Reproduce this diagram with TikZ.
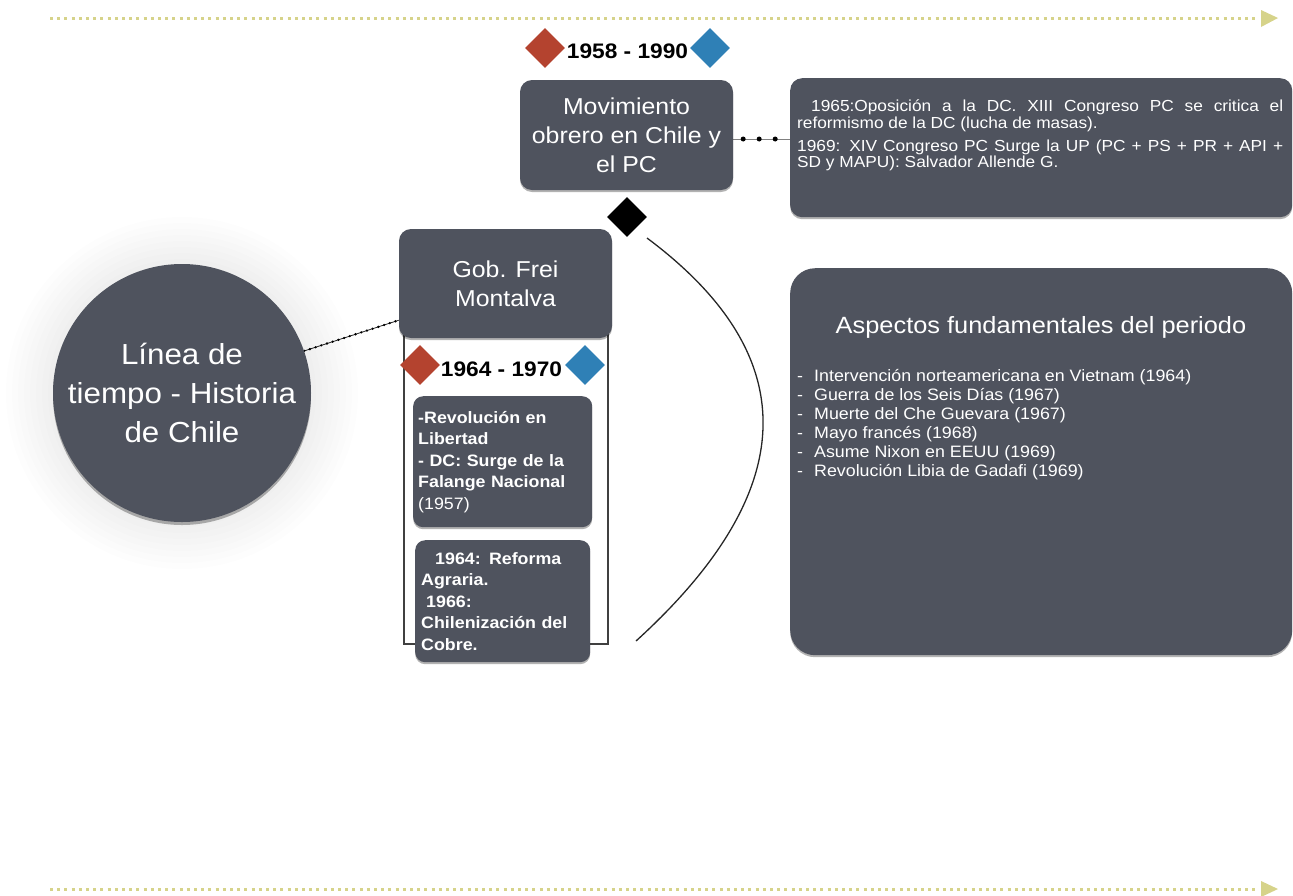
\documentclass[tikz,border=0pt]{standalone}
\usepackage{fontspec}
\setmainfont[FakeStretch=1.08]{Liberation Sans}
\usetikzlibrary{shapes.geometric,shadows}
\definecolor{boxgray}{HTML}{4F535E}
\definecolor{dred}{HTML}{B4432F}
\definecolor{dblue}{HTML}{2F80B6}
\definecolor{khaki}{HTML}{D6D38A}
\pgfdeclarelayer{background}
\pgfsetlayers{background,main}
\newcommand{\myfs}[2]{\fontsize{#1}{#2}\selectfont}
\begin{document}
\begin{tikzpicture}[x=1pt,y=-1pt,
  darkbox/.style={fill=boxgray, rounded corners=12pt, text=white, inner sep=0pt,
     drop shadow={shadow xshift=0pt, shadow yshift=-2pt, opacity=0.3, fill=black}},
  gem/.style={diamond, minimum width=40pt, minimum height=40pt, inner sep=0pt},
  yearlabel/.style={font=\bfseries\myfs{21}{25}, text=black, inner sep=0pt},
  timeline/.style={khaki, line width=3pt, dash pattern=on 3pt off 4.2pt},
  whitetext/.style={text=white, inner sep=0pt},
]
\useasboundingbox (0,0) rectangle (1293,895);

% timelines
\coordinate (t1s) at (50,18); \coordinate (t1e) at (1259,18);
\draw[timeline] (t1s) -- (t1e);
\fill[khaki] (1261,10) -- (1278,18) -- (1261,27) -- cycle;
\coordinate (t2s) at (50,889); \coordinate (t2e) at (1259,889);
\draw[timeline] (t2s) -- (t2e);
\fill[khaki] (1261,881) -- (1278,889) -- (1261,897) -- cycle;

% glow behind circle
\foreach \r in {176,170,...,130} \fill[black, opacity=0.008] (182,393) circle[radius=\r pt];

\node[circle, fill=boxgray, minimum size=258pt, inner sep=0pt, text=white, align=center,
      font=\myfs{29}{39}, drop shadow={shadow xshift=0pt, shadow yshift=-3pt, opacity=0.3, fill=black}]
      (circ) at (182,393) {Línea de\\tiempo - Historia\\de Chile};

% Frei block
\node[darkbox, minimum width=213pt, minimum height=109pt, align=center, font=\myfs{23}{29}]
      (frei) at (505.5,283.5) {Gob. Frei\\Montalva};
\node[gem, fill=dred] (r2) at (420,365) {};
\node[gem, fill=dblue] (b2) at (585,365) {};
\node[yearlabel, anchor=base] (y2) at (501.5,376) {1964 - 1970};
\node[darkbox, rounded corners=10pt, minimum width=179pt, minimum height=131pt, text width=169pt,
      inner xsep=5pt, align=left, font=\bfseries\myfs{16.5}{21.5}, anchor=north west]
      (boxa) at (413,396) {-Revolución en\\Libertad\\- DC: Surge de la\\Falange Nacional\\{\mdseries (1957)}};
\node[darkbox, rounded corners=10pt, minimum width=175pt, minimum height=122pt, text width=163pt,
      inner xsep=6pt, align=left, font=\bfseries\myfs{16.5}{21.5}, anchor=north west]
      (boxb) at (415,540) {\hspace*{14pt}1964: Reforma\\Agraria.\\\hspace*{5pt}1966:\\Chilenización del\\Cobre.};

% Movimiento block
\node[gem, fill=dred] (r1) at (545,48) {};
\node[gem, fill=dblue] (b1) at (710,48) {};
\node[yearlabel, anchor=base] (y1) at (627.5,58) {1958 - 1990};
\node[darkbox, minimum width=213pt, minimum height=110pt, align=center, font=\myfs{23}{29}]
      (mov) at (626.5,135) {Movimiento\\obrero en Chile y\\el PC};
\node[gem, fill=black] (kd) at (627,217) {};

% right boxes
\node[darkbox, minimum width=502pt, minimum height=139pt, anchor=north west] (pcbox) at (790,78) {};
\node[whitetext, anchor=base west, font=\myfs{16}{16.5}] (pctext) at (797,111.5) {\parbox[t]{486pt}{%
\makebox[486pt][s]{\hspace*{14pt}1965:Oposición a la DC. XIII Congreso PC se critica el}\\
reformismo de la DC (lucha de masas).\\[6.5pt]
\makebox[486pt][s]{1969: XIV Congreso PC Surge la UP (PC + PS + PR + API +}\\
SD y MAPU): Salvador Allende G.}};

\node[darkbox, rounded corners=25pt, minimum width=502pt, minimum height=387pt, anchor=north west] (aspbox) at (790,268) {};
\node[whitetext, anchor=base, font=\myfs{23.5}{28}] (asptitle) at (1041,333) {Aspectos fundamentales del periodo};
\node[whitetext, anchor=base west, font=\myfs{16.5}{19}] (asplist) at (797,381.5) {\parbox[t]{480pt}{%
\makebox[17pt][l]{-}Intervención norteamericana en Vietnam (1964)\\
\makebox[17pt][l]{-}Guerra de los Seis Días (1967)\\
\makebox[17pt][l]{-}Muerte del Che Guevara (1967)\\
\makebox[17pt][l]{-}Mayo francés (1968)\\
\makebox[17pt][l]{-}Asume Nixon en EEUU (1969)\\
\makebox[17pt][l]{-}Revolución Libia de Gadafi (1969)}};

% connectors and frame behind
\begin{pgfonlayer}{background}
\node[draw=black!75, line width=1.5pt, minimum width=204pt, minimum height=343pt, inner sep=0pt, anchor=north west] (frame) at (403,300) {};
\coordinate (fc) at ([yshift=18pt]frei.south west);
\draw[black!85, line width=0.8pt] (circ.19) -- (fc);
\draw[black, line width=2.6pt, line cap=round, dash pattern=on 0pt off 6pt] (circ.19) -- (fc);
\coordinate (m1) at ([yshift=-4pt]mov.east);
\coordinate (m2) at (m1 -| pcbox.west);
\draw[gray, line width=0.8pt] (m1) -- (m2);
\draw[black, line width=5pt, line cap=round, dash pattern=on 0pt off 16pt, dash phase=6pt] (m1) -- ([xshift=-12pt]m2);
\coordinate (cs) at (647,238); \coordinate (ce) at (636,641);
\draw[black!85, line width=1.3pt] (cs) .. controls (805,356) and (802,490) .. (ce);
\end{pgfonlayer}
\end{tikzpicture}
\end{document}
